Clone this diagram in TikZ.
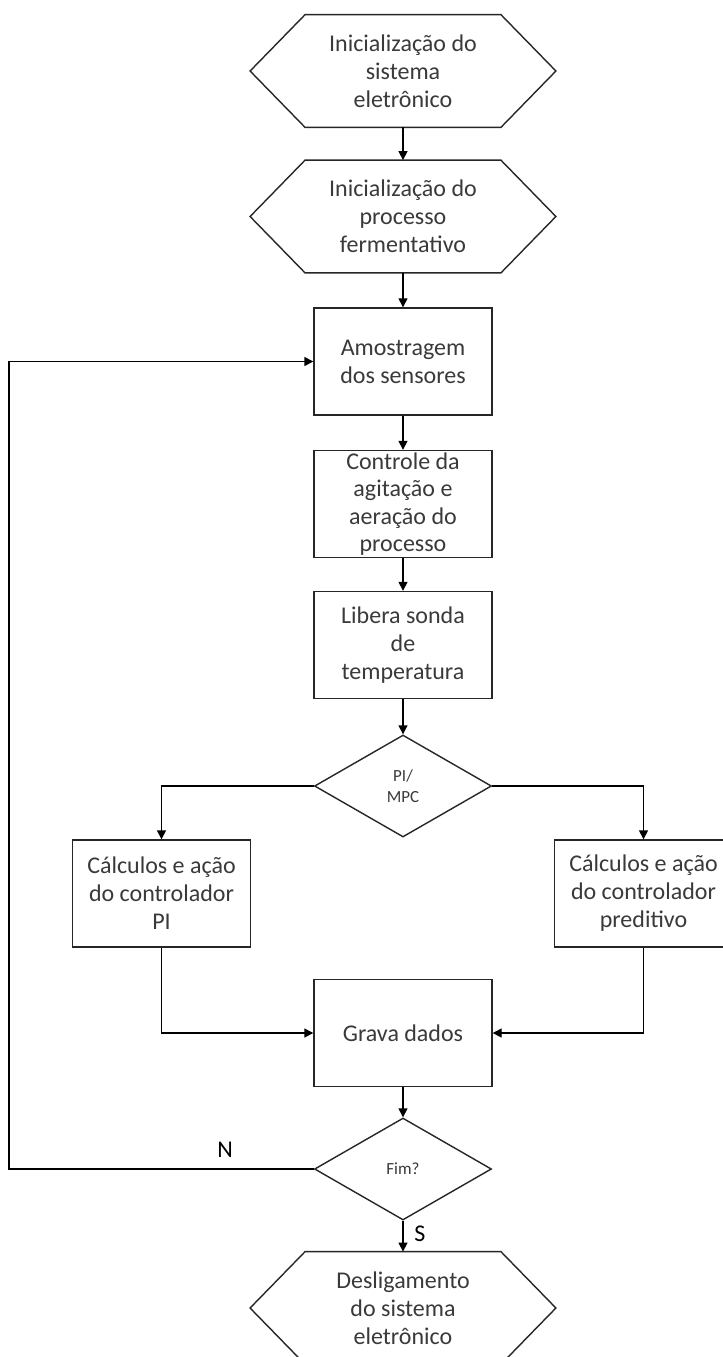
\documentclass[tikz,border=0pt]{standalone}
\usepackage{fontspec}
\setmainfont{Carlito}
\usetikzlibrary{shapes.geometric,arrows.meta,calc}
\definecolor{txt}{HTML}{3A3A3A}
\definecolor{ln}{HTML}{262626}
\tikzset{
  base/.style={inner sep=0pt, align=center, text=txt, font=\fontsize{12}{14}\selectfont},
  boxnode/.style={base, draw=ln, line width=0.7pt, minimum width=89pt, minimum height=53.5pt},
  hexnode/.style={base, minimum width=152.5pt, minimum height=56pt},
  hexline/.style={draw=ln, line width=0.7pt, line join=miter},
  decnode/.style={base, diamond, draw=ln, line width=0.7pt, minimum width=88.5pt, minimum height=51pt, font=\fontsize{8.5}{10.5}\selectfont},
  conn/.style={draw=black, line width=0.7pt, -{Triangle[length=4.5pt,width=4.5pt]}},
  lbl/.style={text=black, font=\fontsize{12}{14}\selectfont, inner sep=0pt}
}
\newcommand{\hexdraw}[1]{%
  \draw[hexline] (#1.west) -- ($(#1.north west)+(55,0)$) -- ($(#1.north east)+(-55,0)$) -- (#1.east) -- ($(#1.south east)+(-55,0)$) -- ($(#1.south west)+(55,0)$) -- cycle;}
\begin{document}
\begin{tikzpicture}[x=0.5pt,y=-0.5pt]
\clip (0,0) rectangle (723,1357);
\fill[white] (0,0) rectangle (723,1357);

\node[hexnode] (h1) at (403,71) {Inicialização do\\sistema\\eletrônico};
\hexdraw{h1}
\node[hexnode] (h2) at (403,216.5) {Inicialização do\\processo\\fermentativo};
\hexdraw{h2}
\node[boxnode] (amo) at (403,361.5) {Amostragem\\dos sensores};
\node[boxnode, font=\fontsize{12}{13.6}\selectfont] (ctrl) at (403,504) {Controle da\\agitação e\\aeração do\\processo};
\node[boxnode] (lib) at (403,645) {Libera sonda\\de\\temperatura};
\node[decnode] (d1) at (403,786) {PI/\\MPC};
\node[boxnode] (pi) at (161.5,893.5) {Cálculos e ação\\do controlador\\PI};
\node[boxnode] (mpc) at (643.5,893.5) {Cálculos e ação\\do controlador\\preditivo};
\node[boxnode] (grava) at (403,1033) {Grava dados};
\node[decnode] (fim) at (403,1169) {Fim?};
\node[hexnode] (h3) at (403,1308) {Desligamento\\do sistema\\eletrônico};
\hexdraw{h3}

\draw[conn] (h1.south) -- (h2.north);
\draw[conn] (h2.south) -- (amo.north);
\draw[conn] (amo.south) -- (ctrl.north);
\draw[conn] (ctrl.south) -- (lib.north);
\draw[conn] (lib.south) -- (d1.north);
\draw[conn] (d1.west) -| (pi.north);
\draw[conn] (d1.east) -| (mpc.north);
\draw[conn] (pi.south) |- (grava.west);
\draw[conn] (mpc.south) |- (grava.east);
\draw[conn] (grava.south) -- (fim.north);
\draw[conn] (fim.south) -- (h3.north);
\coordinate (loopc) at (9,1169);
\draw[conn] (fim.west) -- (loopc) |- (amo.west);
\node[lbl] (nlab) at (225,1150) {N};
\node[lbl] (slab) at (420,1234) {S};
\end{tikzpicture}
\end{document}
